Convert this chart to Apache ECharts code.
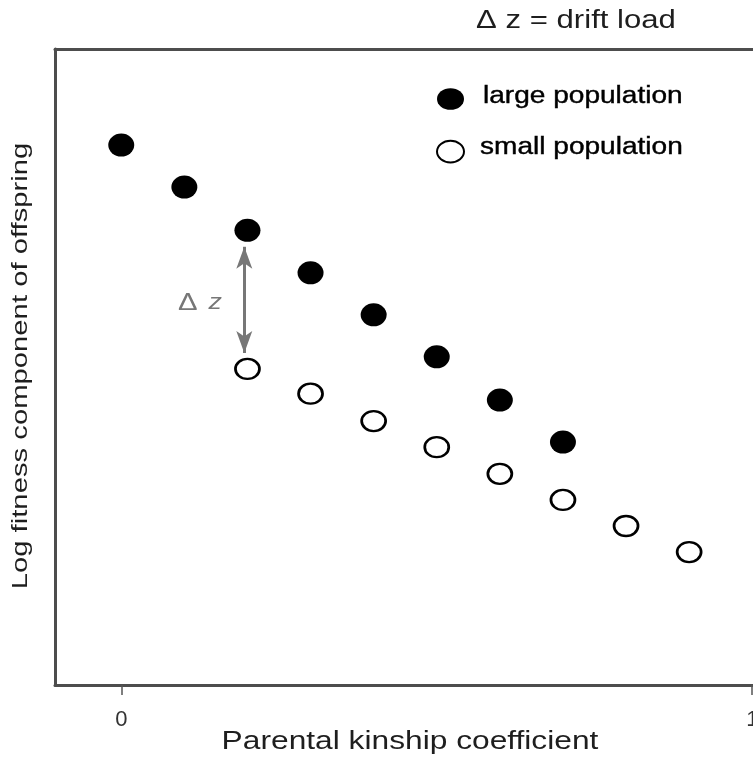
<!DOCTYPE html>
<html>
<head>
<meta charset="utf-8">
<script src="https://cdn.jsdelivr.net/npm/echarts@6/dist/echarts.min.js"></script>
<style>html,body{margin:0;padding:0;background:#fff;}#c{width:753px;height:775px;}</style>
</head>
<body>
<div id="c"></div>
<script>
// Parental kinship coefficient
var kinshipLarge = [0, 0.1, 0.2, 0.3, 0.4, 0.5, 0.6, 0.7];
var kinshipSmall = [0.2, 0.3, 0.4, 0.5, 0.6, 0.7, 0.8, 0.9];
// Log fitness component (arbitrary units)
var fitnessLarge = [8.49, 7.83, 7.15, 6.48, 5.82, 5.16, 4.48, 3.82];
var fitnessSmall = [4.97, 4.58, 4.15, 3.74, 3.32, 2.91, 2.50, 2.09];
var xTickValues = [0, 1];
var xTickLabels = ['0', '1'];
var seriesNames = ['large population', 'small population'];
var titleText = 'Δ z = drift load';
var xName = 'Parental kinship coefficient';
var yName = 'Log fitness component of offspring';
// drift-load arrow (kinship, fitness from -> to)
var arrowX = 0.195;
var arrowFrom = 6.89;
var arrowTo = 5.22;

function pairs(xs, ys) { return xs.map(function (x, i) { return [x, ys[i]]; }); }

var chart = echarts.init(document.getElementById('c'), null, { renderer: 'canvas' });
var FONT = 'Liberation Sans, Arial, sans-serif';
var FRAME = { color: '#4d4d4d', width: 3 };
var TXT = '#1e1e1e';
var SX = 1.22;
var ELLIPSE = 'path://M0,10 A12.5,10 0 1,1 25,10 A12.5,10 0 1,1 0,10 Z';
chart.setOption({
  animation: false,
  backgroundColor: '#fff',
  textStyle: { fontFamily: FONT },
  grid: { left: 55, top: 49, bottom: 90, right: 0, outerBoundsMode: 'none', containLabel: false },
  legend: {
    orient: 'vertical', left: 436, top: 88, padding: 0,
    itemWidth: 27, itemHeight: 22, itemGap: 30,
    selectedMode: false,
    formatter: function () { return ''; },
    data: [{ name: seriesNames[0], icon: ELLIPSE }, { name: seriesNames[1], icon: ELLIPSE }]
  },
  xAxis: [{
    type: 'value', min: -0.105, max: 1.0012,
    splitLine: { show: false },
    axisLine: { show: true, onZero: false, lineStyle: FRAME },
    axisTick: { show: true, customValues: xTickValues, length: 10, lineStyle: { color: '#555', width: 1.5 } },
    axisLabel: {
      show: true, customValues: xTickValues, margin: 24, fontSize: 22, color: '#333', fontFamily: FONT,
      showMinLabel: true, showMaxLabel: true, hideOverlap: false,
      formatter: function (v) { var i = xTickValues.indexOf(v); return i >= 0 ? xTickLabels[i] : ''; }
    }
  }, {
    type: 'value', position: 'top', min: -0.105, max: 1.0012,
    splitLine: { show: false },
    axisLine: { show: true, onZero: false, lineStyle: FRAME },
    axisTick: { show: false }, axisLabel: { show: false }
  }],
  yAxis: {
    type: 'value', min: 0, max: 10,
    splitLine: { show: false },
    axisLine: { show: true, onZero: false, lineStyle: FRAME },
    axisTick: { show: false },
    axisLabel: { show: false }
  },
  series: [
    {
      name: seriesNames[0], type: 'scatter', symbol: 'circle', symbolSize: [26, 23],
      itemStyle: { color: '#000', opacity: 1 },
      data: pairs(kinshipLarge, fitnessLarge),
      markLine: {
        silent: true, symbol: ['arrow', 'arrow'], symbolSize: [12, 22],
        label: { show: false },
        lineStyle: { color: '#777', width: 3, type: 'solid', opacity: 1 },
        data: [[{ coord: [arrowX, arrowFrom] }, { coord: [arrowX, arrowTo] }]]
      }
    },
    {
      name: seriesNames[1], type: 'scatter', symbol: 'circle', symbolSize: [24, 20],
      itemStyle: { color: '#fff', borderColor: '#000', borderWidth: 2.5, opacity: 1 },
      data: pairs(kinshipSmall, fitnessSmall)
    }
  ],
  graphic: [
    { type: 'text', x: 410, y: 742, scaleX: SX,
      style: { text: xName, fontSize: 26, fill: TXT, fontFamily: FONT, align: 'center', verticalAlign: 'middle' } },
    { type: 'text', x: 21, y: 366, rotation: Math.PI / 2, scaleX: 1.3,
      style: { text: yName, fontSize: 22.5, fill: TXT, fontFamily: FONT, align: 'center', verticalAlign: 'middle' } },
    { type: 'text', x: 576, y: 20.5, scaleX: SX,
      style: { text: titleText, fontSize: 25.5, fill: TXT, fontFamily: FONT, align: 'center', verticalAlign: 'middle' } },
    { type: 'text', x: 483, y: 97, scaleX: SX,
      style: { text: seriesNames[0], fontSize: 23, fill: '#000', fontFamily: FONT, align: 'left', verticalAlign: 'middle', stroke: '#000', lineWidth: 0.4 } },
    { type: 'text', x: 480, y: 148, scaleX: SX,
      style: { text: seriesNames[1], fontSize: 23, fill: '#000', fontFamily: FONT, align: 'left', verticalAlign: 'middle', stroke: '#000', lineWidth: 0.4 } },
    { type: 'text', x: 178, y: 303, scaleX: SX,
      style: {
        text: '{a|Δ}{b|z}', verticalAlign: 'middle', align: 'left', fill: '#777', fontFamily: FONT,
        rich: {
          a: { fontSize: 24, fill: '#777', fontFamily: FONT },
          b: { fontSize: 22, fill: '#777', fontStyle: 'italic', fontFamily: FONT, padding: [0, 0, 0, 9] }
        }
      } }
  ]
});
</script>
</body>
</html>
